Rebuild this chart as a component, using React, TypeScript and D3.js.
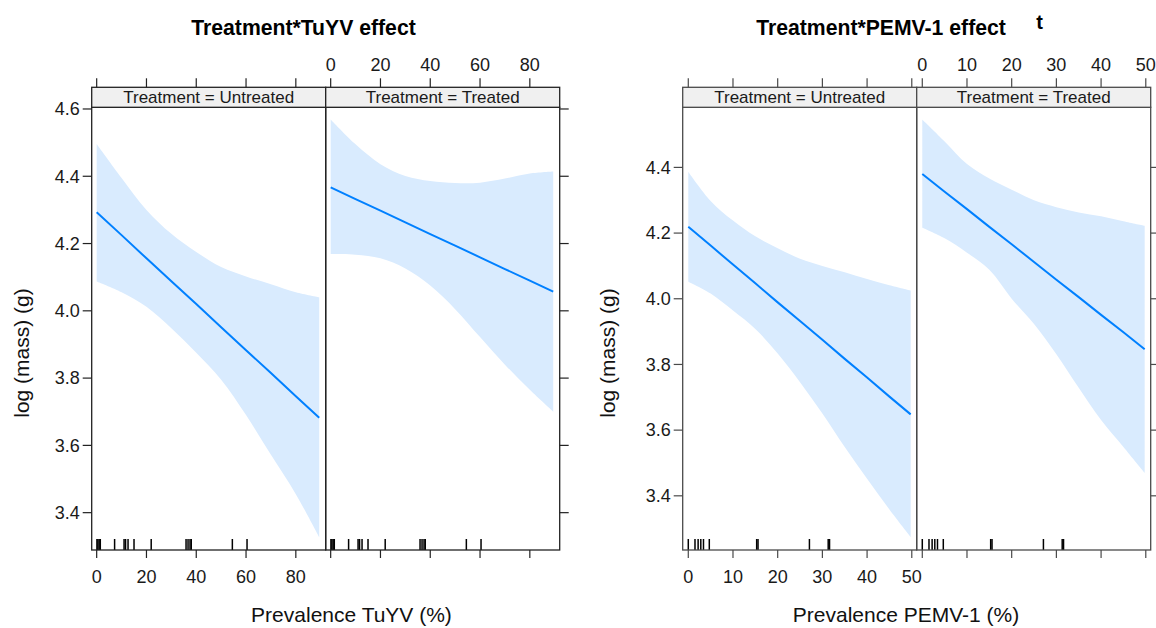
import * as d3 from "d3";

// TuYV effect (x = prevalence %, values = log mass)
const tuyvX = [0, 10, 20, 30, 40, 50, 60, 70, 80, 89.4];
const tuyvUntreatedFit = [4.293, 4.225, 4.156, 4.088, 4.02, 3.951, 3.883, 3.815, 3.746, 3.682];
const tuyvUntreatedUpper = [4.496, 4.395, 4.3, 4.229, 4.175, 4.13, 4.102, 4.079, 4.055, 4.04];
const tuyvUntreatedLower = [4.087, 4.055, 4.012, 3.948, 3.875, 3.795, 3.69, 3.572, 3.455, 3.327];
const tuyvTreatedFit = [4.367, 4.332, 4.298, 4.263, 4.228, 4.194, 4.159, 4.124, 4.09, 4.057];
const tuyvTreatedUpper = [4.569, 4.495, 4.436, 4.401, 4.386, 4.38, 4.381, 4.393, 4.408, 4.414];
const tuyvTreatedLower = [4.169, 4.167, 4.156, 4.126, 4.075, 4.005, 3.922, 3.84, 3.765, 3.7];
const tuyvRug = [0.1, 0.5, 1.0, 1.45, 7.2, 11.0, 11.6, 12.6, 15.0, 21.9, 35.9, 36.7, 37.5, 38.0, 54.5, 60.4];
const tuyvTicks = [0, 20, 40, 60, 80];
const tuyvYTicks = [3.4, 3.6, 3.8, 4.0, 4.2, 4.4, 4.6];

// PEMV-1 effect
const pemvX = [0, 5, 10, 15, 20, 25, 30, 35, 40, 45, 49.75];
const pemvUntreatedFit = [4.219, 4.162, 4.104, 4.047, 3.989, 3.932, 3.875, 3.817, 3.76, 3.702, 3.648];
const pemvUntreatedUpper = [4.387, 4.298, 4.238, 4.19, 4.154, 4.122, 4.1, 4.081, 4.06, 4.041, 4.025];
const pemvUntreatedLower = [4.052, 4.016, 3.964, 3.908, 3.833, 3.746, 3.651, 3.549, 3.452, 3.358, 3.274];
const pemvTreatedFit = [4.38, 4.326, 4.273, 4.219, 4.166, 4.112, 4.058, 4.005, 3.951, 3.898, 3.846];
const pemvTreatedUpper = [4.546, 4.479, 4.41, 4.366, 4.332, 4.3, 4.279, 4.263, 4.251, 4.236, 4.222];
const pemvTreatedLower = [4.216, 4.184, 4.14, 4.088, 4.0, 3.923, 3.831, 3.729, 3.631, 3.549, 3.47];
const pemvRug = [0, 1.5, 2.2, 2.8, 3.4, 4.7, 15.3, 15.6, 27.1, 31.3, 31.6];
const pemvTicks = [0, 10, 20, 30, 40, 50];
const pemvYTicks = [3.4, 3.6, 3.8, 4.0, 4.2, 4.4];

const strips = ["Treatment = Untreated", "Treatment = Treated"];

const FONT = "'Liberation Sans', Arial, Helvetica, sans-serif";
const STRIP_TOP = 87.3;
const PANEL_TOP = 107.3;
const PANEL_BOTTOM = 550;
const PANEL_W = 234;

const EffectPlot = (props) => {
    const { left, xs, panels, rug, xDomain, xTicks, yDomain, yTicks, frame } = props;
    const right = left + PANEL_W * 2;

    const y = d3.scaleLinear().domain(yDomain).range([PANEL_BOTTOM, PANEL_TOP]);

    return (
        <g>
            <text x={props.titleX} y={35} textAnchor="middle" fontSize={21.2} fontWeight="bold" fontFamily={FONT}>
                {props.title}
            </text>
            <text x={props.xLabelX} y={622} textAnchor="middle" fontSize={21} fontFamily={FONT} fill="#111">
                {props.xLabel}
            </text>
            <text transform={`translate(${props.yLabelX},353) rotate(-90)`} textAnchor="middle" dy="0.35em"
                fontSize={21} fontFamily={FONT} fill="#111">
                log (mass) (g)
            </text>

            {panels.map((p, i) => {
                const x0 = left + i * PANEL_W;
                const x = d3.scaleLinear().domain(xDomain).range([x0, x0 + PANEL_W]);
                const area = d3.area<number>()
                    .x((_, k) => x(xs[k]))
                    .y0((_, k) => y(p.lower[k]))
                    .y1((_, k) => y(p.upper[k]))
                    .curve(d3.curveCatmullRom.alpha(0.5));
                const line = d3.line<number>()
                    .x((_, k) => x(xs[k]))
                    .y(d => y(d));
                return (
                    <g key={i}>
                        <path d={area(p.fit) || ""} fill="#d9ebfe" />
                        <path d={line(p.fit) || ""} fill="none" stroke="#0080ff" strokeWidth={2} />
                        {rug.map((r, k) => (
                            <line key={k} x1={x(r)} x2={x(r)} y1={PANEL_BOTTOM - 11} y2={PANEL_BOTTOM}
                                stroke="#000" strokeWidth={1.5} />
                        ))}
                        <rect x={x0} y={PANEL_TOP} width={PANEL_W} height={PANEL_BOTTOM - PANEL_TOP}
                            fill="none" stroke={frame} strokeWidth={1.3} />
                        <rect x={x0} y={STRIP_TOP} width={PANEL_W} height={PANEL_TOP - STRIP_TOP}
                            fill="#f0f0f0" stroke={frame} strokeWidth={1.3} />
                        <text x={x0 + PANEL_W / 2} y={PANEL_TOP - 4.5} textAnchor="middle" fontSize={17}
                            fontFamily={FONT} fill="#1a1a1a">{p.strip}</text>
                        {xTicks.map(t => (
                            <g key={"b" + t}>
                                <line x1={x(t)} x2={x(t)} y1={PANEL_BOTTOM} y2={PANEL_BOTTOM + 8} stroke={frame} strokeWidth={1.2} />
                                <line x1={x(t)} x2={x(t)} y1={STRIP_TOP - 9} y2={STRIP_TOP} stroke={frame} strokeWidth={1.2} />
                                {i === 0 && (
                                    <text x={x(t)} y={583} textAnchor="middle" fontSize={18} fontFamily={FONT} fill="#1a1a1a">{t}</text>
                                )}
                                {i === 1 && (
                                    <text x={x(t)} y={71} textAnchor="middle" fontSize={18} fontFamily={FONT} fill="#1a1a1a">{t}</text>
                                )}
                            </g>
                        ))}
                    </g>
                );
            })}

            {yTicks.map(t => (
                <g key={"y" + t}>
                    <line x1={left - 9} x2={left} y1={y(t)} y2={y(t)} stroke={frame} strokeWidth={1.2} />
                    <line x1={right} x2={right + 9} y1={y(t)} y2={y(t)} stroke={frame} strokeWidth={1.2} />
                    <text x={left - 12} y={y(t)} dy="0.35em" textAnchor="end" fontSize={18} fontFamily={FONT} fill="#1a1a1a">
                        {t.toFixed(1)}
                    </text>
                </g>
            ))}
        </g>
    );
};

export default function App() {
    return (
        <svg width={1156} height={628} style={{ position: "absolute", left: 0, top: 0, background: "#fff" }}>
            <EffectPlot
                left={91.7}
                title="Treatment*TuYV effect"
                titleX={303.5}
                xLabel="Prevalence TuYV (%)"
                xLabelX={351.5}
                yLabelX={22}
                xs={tuyvX}
                panels={[
                    { strip: strips[0], fit: tuyvUntreatedFit, lower: tuyvUntreatedLower, upper: tuyvUntreatedUpper },
                    { strip: strips[1], fit: tuyvTreatedFit, lower: tuyvTreatedLower, upper: tuyvTreatedUpper },
                ]}
                rug={tuyvRug}
                xDomain={[-2, 92]}
                xTicks={tuyvTicks}
                yDomain={[3.289, 4.605]}
                yTicks={tuyvYTicks}
                frame="#222"
            />
            <EffectPlot
                left={682.7}
                title="Treatment*PEMV-1 effect"
                titleX={881}
                xLabel="Prevalence PEMV-1 (%)"
                xLabelX={906}
                yLabelX={608}
                xs={pemvX}
                panels={[
                    { strip: strips[0], fit: pemvUntreatedFit, lower: pemvUntreatedLower, upper: pemvUntreatedUpper },
                    { strip: strips[1], fit: pemvTreatedFit, lower: pemvTreatedLower, upper: pemvTreatedUpper },
                ]}
                rug={pemvRug}
                xDomain={[-1.25, 51.1]}
                xTicks={pemvTicks}
                yDomain={[3.235, 4.583]}
                yTicks={pemvYTicks}
                frame="#4a4a4a"
            />
            <text x={1039.5} y={29} textAnchor="middle" fontSize={20} fontWeight="bold" fontFamily={FONT}>t</text>
        </svg>
    );
}
